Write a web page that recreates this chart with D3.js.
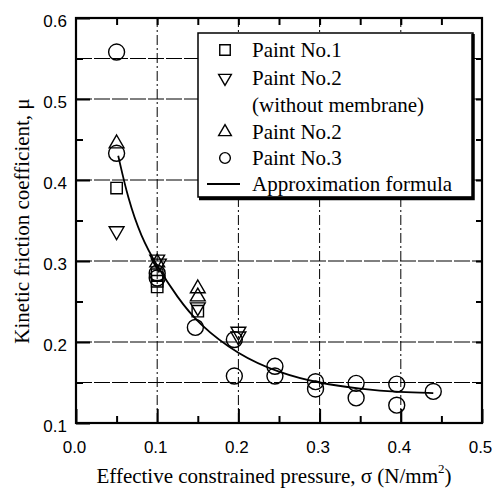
<!DOCTYPE html>
<html>
<head>
<meta charset="utf-8">
<script src="https://cdn.jsdelivr.net/npm/d3@7"></script>
<style>
  body { margin: 0; background: #fff; }
  svg { display: block; }
</style>
</head>
<body>
<svg id="chart"></svg>
<script>
// data: [sigma (N/mm2), mu]
const paint1 = [[0.05, 0.39], [0.1, 0.283], [0.1, 0.275], [0.1, 0.268], [0.15, 0.238]]
const paint2NoMembrane = [[0.05, 0.337], [0.1, 0.302], [0.102, 0.297], [0.15, 0.243], [0.2, 0.213], [0.2, 0.207]]
const paint2 = [[0.05, 0.445], [0.1, 0.298], [0.15, 0.266], [0.15, 0.256]]
const paint3 = [[0.05, 0.558], [0.05, 0.433], [0.1, 0.285], [0.1, 0.279], [0.147, 0.218], [0.195, 0.203], [0.195, 0.158],
  [0.245, 0.17], [0.245, 0.158], [0.295, 0.151], [0.295, 0.142], [0.345, 0.149], [0.345, 0.131],
  [0.395, 0.148], [0.395, 0.122], [0.44, 0.139]]
const approxCurve = [[0.052, 0.43], [0.064, 0.377], [0.08, 0.33], [0.1, 0.293], [0.125, 0.255], [0.15, 0.223],
  [0.2, 0.184], [0.25, 0.162], [0.3, 0.149], [0.35, 0.142], [0.4, 0.138], [0.44, 0.137]]
const xTicks = [0, 0.1, 0.2, 0.3, 0.4, 0.5]
const yTicks = [0.1, 0.2, 0.3, 0.4, 0.5, 0.6]
const yGrid = [0.15, 0.2, 0.3, 0.4, 0.5, 0.55]
const xGrid = [0.1, 0.2, 0.3, 0.4]
const legendLabels = ['Paint No.1', 'Paint No.2', '(without membrane)', 'Paint No.2', 'Paint No.3', 'Approximation formula']

const width = 503
const height = 490
const serif = '"Liberation Serif", "Times New Roman", serif'
const sans = '"Liberation Sans", Arial, sans-serif'

const svg = d3.select('#chart').attr('width', width).attr('height', height)

const x = d3.scaleLinear().domain([0, 0.5]).range([76, 482])
const y = d3.scaleLinear().domain([0.1, 0.6]).range([423, 18])

// grid
svg.append('g')
  .selectAll('line')
  .data(yGrid)
  .join('line')
  .attr('x1', x(0)).attr('x2', x(0.5))
  .attr('y1', d => y(d)).attr('y2', d => y(d))
  .attr('stroke', '#000').attr('stroke-width', 1)
  .attr('stroke-dasharray', '16,2')

svg.append('g')
  .selectAll('line')
  .data(xGrid)
  .join('line')
  .attr('x1', d => x(d)).attr('x2', d => x(d))
  .attr('y1', y(0.1)).attr('y2', y(0.6))
  .attr('stroke', '#000').attr('stroke-width', 1)
  .attr('stroke-dasharray', '10,3,2,3')

// axes with inward ticks
const minorX = d3.range(0.05, 0.5, 0.1)
const minorY = d3.range(0.15, 0.6, 0.1)

const axisStyle = g => {
  g.select('.domain').remove()
  g.selectAll('.tick line').attr('stroke', '#000').attr('stroke-width', 2)
  g.selectAll('.tick text').attr('font-family', sans).attr('font-size', 17).attr('fill', '#000')
}

svg.append('g')
  .attr('transform', `translate(0,${y(0.1)})`)
  .call(d3.axisBottom(x).tickValues(xTicks).tickFormat(d3.format('.1f')).tickSizeInner(-14).tickPadding(18))
  .call(axisStyle)
  .call(g => g.selectAll('.tick text').attr('dx', -2))

svg.append('g')
  .attr('transform', `translate(0,${y(0.1)})`)
  .call(d3.axisBottom(x).tickValues(minorX).tickFormat('').tickSizeInner(-7))
  .call(axisStyle)

svg.append('g')
  .attr('transform', `translate(0,${y(0.6)})`)
  .call(d3.axisTop(x).tickValues(d3.range(0.05, 0.5, 0.05)).tickFormat('').tickSizeInner(-7))
  .call(axisStyle)

svg.append('g')
  .attr('transform', `translate(${x(0)},0)`)
  .call(d3.axisLeft(y).tickValues(yTicks).tickFormat(d3.format('.1f')).tickSizeInner(-14).tickPadding(9))
  .call(axisStyle)
  .call(g => g.selectAll('.tick text').attr('dy', '0.5em'))

svg.append('g')
  .attr('transform', `translate(${x(0)},0)`)
  .call(d3.axisLeft(y).tickValues(minorY).tickFormat('').tickSizeInner(-7))
  .call(axisStyle)

svg.append('g')
  .attr('transform', `translate(${x(0.5)},0)`)
  .call(d3.axisRight(y).tickValues(d3.range(0.15, 0.6, 0.05)).tickFormat('').tickSizeInner(-6))
  .call(axisStyle)

// frame
svg.append('rect')
  .attr('x', x(0)).attr('y', y(0.6))
  .attr('width', x(0.5) - x(0)).attr('height', y(0.1) - y(0.6))
  .attr('fill', 'none').attr('stroke', '#000').attr('stroke-width', 2.2)

// approximation curve
const line = d3.line().x(d => x(d[0])).y(d => y(d[1])).curve(d3.curveBasis)
svg.append('path')
  .datum(approxCurve)
  .attr('d', line)
  .attr('fill', 'none').attr('stroke', '#000').attr('stroke-width', 1.8)

// markers
const marker = {
  square: d3.symbol(d3.symbolSquare, 130),
  triangle: d3.symbol(d3.symbolTriangle, 95),
  circle: d3.symbol(d3.symbolCircle, 200),
}

function drawSeries(data, sym, rotate) {
  svg.append('g')
    .selectAll('path')
    .data(data)
    .join('path')
    .attr('transform', d => `translate(${x(d[0])},${y(d[1])})${rotate ? ' rotate(180)' : ''}`)
    .attr('d', sym)
    .attr('fill', 'none').attr('stroke', '#000').attr('stroke-width', 1.4)
}

drawSeries(paint3, marker.circle)
drawSeries(paint1, marker.square)
drawSeries(paint2NoMembrane, marker.triangle, true)
drawSeries(paint2, marker.triangle)

// legend
const legend = svg.append('g')
legend.append('rect')
  .attr('x', 198).attr('y', 33).attr('width', 275).attr('height', 164)
  .attr('fill', '#fff').attr('stroke', '#000').attr('stroke-width', 1.5)
legend.append('path')
  .attr('d', 'M473,34V198.5H199')
  .attr('fill', 'none').attr('stroke', '#000').attr('stroke-width', 3.5)

const rowsY = [57, 85, 112, 139, 165, 191]
legend.selectAll('text')
  .data(legendLabels)
  .join('text')
  .attr('x', 252)
  .attr('y', (d, i) => rowsY[i])
  .attr('font-family', serif)
  .attr('font-size', 21)
  .attr('fill', '#000')
  .text(d => d)

const legendSyms = [
  { sym: d3.symbol(d3.symbolSquare, 110), row: 0 },
  { sym: d3.symbol(d3.symbolTriangle, 70), row: 1, rotate: true },
  { sym: d3.symbol(d3.symbolTriangle, 70), row: 3 },
  { sym: d3.symbol(d3.symbolCircle, 90), row: 4 },
]
legend.selectAll('path.sym')
  .data(legendSyms)
  .join('path')
  .attr('class', 'sym')
  .attr('transform', d => `translate(225,${rowsY[d.row] - 7})${d.rotate ? ' rotate(180)' : ''}`)
  .attr('d', d => d.sym())
  .attr('fill', 'none').attr('stroke', '#000').attr('stroke-width', 1.4)

legend.append('line')
  .attr('x1', 207).attr('x2', 240)
  .attr('y1', rowsY[5] - 7).attr('y2', rowsY[5] - 7)
  .attr('stroke', '#000').attr('stroke-width', 1.8)

// axis titles
const xTitle = svg.append('text')
  .attr('x', 274).attr('y', 483)
  .attr('text-anchor', 'middle')
  .attr('font-family', serif).attr('font-size', 21).attr('fill', '#000')
xTitle.append('tspan').text('Effective constrained pressure, σ (N/mm')
xTitle.append('tspan').attr('dy', -10).attr('font-size', 13).text('2')
xTitle.append('tspan').attr('dy', 10).text(')')

svg.append('text')
  .attr('transform', 'translate(29,221) rotate(-90)')
  .attr('text-anchor', 'middle')
  .attr('font-family', serif).attr('font-size', 21).attr('fill', '#000')
  .text('Kinetic friction coefficient, μ')
</script>
</body>
</html>
